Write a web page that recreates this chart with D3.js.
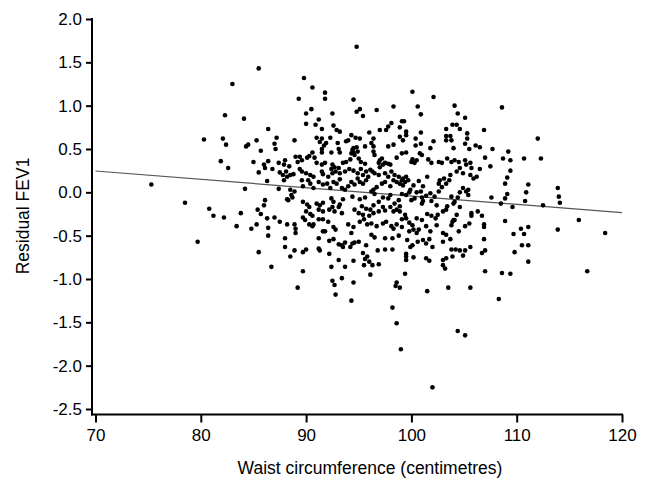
<!DOCTYPE html>
<html><head><meta charset="utf-8">
<script src="https://cdn.jsdelivr.net/npm/d3@7/dist/d3.min.js"></script>
<style>body{margin:0;background:#fff}svg{display:block}text{font-family:"Liberation Sans",Arial,sans-serif}</style>
</head><body><svg id="c" width="655" height="485"></svg>
<script>
const xTicks=[70,80,90,100,110,120];
const yTicks=[2.0,1.5,1.0,0.5,0.0,-0.5,-1.0,-1.5,-2.0,-2.5];
const fitX=[70,120];
const fitY=[0.246,-0.235];
const xTitle="Waist circumference (centimetres)";
const yTitle="Residual FEV1";
// [waist, residual FEV1]
const points=[
[85.5,1.43],[83.0,1.25],[82.3,0.89],[84.1,0.85],[86.4,0.73],[80.3,0.61],[82.1,0.62],[82.4,0.55],[84.3,0.53],[84.5,0.55],[85.3,0.60],[85.7,0.48],[81.9,0.36],[82.6,0.28],[85.0,0.35],[86.0,0.32],[86.1,0.28],[86.4,0.36],[85.5,0.23],[86.3,0.13],[75.3,0.09],[84.2,0.04],[78.5,-0.12],[86.1,-0.09],[80.8,-0.19],[81.2,-0.27],[82.2,-0.29],[83.8,-0.24],[85.4,-0.20],[85.7,-0.25],[86.0,-0.15],[86.3,-0.30],[79.7,-0.57],[83.4,-0.39],[84.8,-0.42],[85.3,-0.37],[86.4,-0.41],[86.4,-0.50],[85.5,-0.69],[86.7,-0.86],
[94.8,1.68],[89.8,1.32],[90.6,1.21],[91.8,1.15],[91.8,1.08],[89.3,1.08],[94.5,1.07],[100.1,1.16],[102.1,1.10],[98.3,0.99],[96.7,0.95],[100.6,0.99],[104.1,1.00],[90.5,0.96],[90.0,0.91],[92.5,0.91],[94.8,0.93],[95.1,0.96],[95.4,0.88],[100.9,0.90],[104.4,0.91],[105.1,0.86],[91.2,0.84],[90.0,0.79],[90.9,0.78],[91.5,0.73],[92.6,0.77],[92.9,0.72],[93.2,0.70],[98.1,0.80],[97.8,0.76],[97.6,0.72],[97.0,0.72],[96.0,0.69],[99.1,0.82],[99.3,0.82],[98.9,0.75],[99.5,0.70],[100.9,0.69],[103.3,0.73],[103.9,0.78],[104.3,0.78],[104.6,0.73],[105.3,0.68],[87.2,0.63],[87.0,0.56],[87.1,0.50],[88.9,0.60],[91.0,0.63],[91.5,0.62],[91.3,0.58],[92.3,0.63],[91.9,0.57],[94.3,0.66],[94.0,0.60],[93.8,0.59],[94.7,0.63],[95.1,0.62],[96.4,0.62],[96.2,0.57],[96.4,0.53],[98.9,0.64],[99.2,0.60],[99.5,0.66],[100.4,0.62],[100.4,0.54],[100.9,0.56],[103.3,0.65],[103.7,0.65],[103.8,0.60],[103.3,0.60],[105.3,0.62],[105.1,0.56],[102.1,0.59],[101.8,0.51],[97.8,0.53],[98.3,0.55],[93.0,0.57],[93.1,0.50],[91.5,0.50],[91.7,0.54],[94.5,0.51],[94.8,0.52],[95.6,0.53],[104.0,0.51],[105.5,0.50],
[108.6,0.98],[106.9,0.72],[112.0,0.62],[106.1,0.54],[106.5,0.52],[107.7,0.50],
[107.0,0.40],[108.7,0.39],[109.2,0.47],[109.4,0.37],[110.7,0.39],[112.3,0.39],[107.5,0.30],[106.5,0.27],[109.4,0.25],[109.1,0.17],[108.9,0.10],[111.1,0.09],[110.9,0.00],[110.8,-0.10],[109.1,-0.02],[108.9,-0.07],[108.5,-0.13],[107.6,-0.06],[109.6,-0.17],[112.5,-0.15],[113.9,0.05],[114.0,-0.05],[114.1,-0.12],[106.7,-0.27],[106.3,-0.22],[105.7,-0.24],[105.7,-0.27],[108.9,-0.33],[106.9,-0.37],[106.9,-0.40],[115.9,-0.32],[110.4,-0.42],[111.1,-0.40],[110.7,-0.48],[109.7,-0.48],[113.9,-0.43],[118.4,-0.47],[106.9,-0.54],[110.5,-0.61],[111.1,-0.61],[107.0,-0.67],[106.7,-0.70],[109.8,-0.69],[111.1,-0.80],[107.0,-0.91],[108.6,-0.93],[109.4,-0.94],[116.7,-0.91],[108.3,-1.23],
[90.6,0.46],[90.3,0.42],[90.1,0.40],[91.5,0.46],[92.4,0.46],[93.2,0.46],[94.4,0.49],[94.5,0.46],[94.9,0.47],[94.6,0.43],[94.3,0.45],[89.0,0.41],[89.4,0.41],[89.6,0.37],[89.2,0.35],[90.8,0.40],[91.0,0.34],[91.5,0.32],[91.8,0.34],[92.5,0.32],[92.7,0.29],[93.1,0.28],[93.5,0.34],[93.8,0.35],[94.2,0.38],[95.0,0.39],[95.2,0.35],[95.6,0.33],[87.4,0.34],[88.0,0.37],[87.9,0.32],[88.4,0.30],[86.8,0.27],[87.5,0.23],[87.8,0.20],[88.1,0.24],[88.5,0.20],[88.8,0.21],[88.2,0.18],[87.9,0.14],[89.4,0.27],[89.6,0.24],[90.0,0.22],[90.4,0.20],[90.7,0.18],[91.5,0.24],[91.6,0.21],[92.1,0.18],[92.4,0.27],[92.5,0.22],[92.8,0.24],[93.2,0.22],[93.7,0.24],[94.1,0.27],[94.5,0.25],[94.9,0.22],[95.2,0.27],[95.4,0.20],[95.7,0.24],[95.9,0.18],[89.6,0.14],[90.2,0.14],[89.7,0.07],[90.4,0.10],[90.7,0.05],[88.5,0.03],[88.9,0.01],[88.6,-0.03],[87.4,0.04],[91.2,0.12],[91.6,0.09],[92.0,0.10],[92.3,0.05],[92.6,0.12],[92.9,0.10],[93.2,0.15],[93.4,0.05],[93.7,0.03],[94.0,0.07],[94.3,0.12],[94.6,0.09],[94.9,0.16],[95.1,0.12],[95.4,0.10],[95.7,0.14],[94.4,-0.05],[95.1,-0.08],[95.6,-0.06],[92.4,-0.07],[93.5,-0.08],[88.2,-0.08],[88.7,-0.06],
[88.3,-0.09],[89.7,-0.11],[90.1,-0.14],[90.3,-0.17],[90.0,-0.22],[90.4,-0.25],[90.6,-0.27],[91.0,-0.13],[91.3,-0.15],[91.6,-0.12],[91.2,-0.20],[91.6,-0.22],[92.2,-0.20],[92.5,-0.17],[92.7,-0.22],[93.1,-0.17],[93.4,-0.24],[93.2,-0.14],[92.6,-0.11],[94.6,-0.20],[95.0,-0.24],[95.3,-0.16],[95.7,-0.19],[95.4,-0.26],[96.0,-0.27],[87.0,-0.29],[87.5,-0.34],[88.2,-0.37],[88.9,-0.37],[89.0,-0.42],[89.0,-0.47],[89.7,-0.29],[89.9,-0.32],[90.3,-0.37],[90.6,-0.39],[90.7,-0.37],[91.2,-0.31],[91.6,-0.31],[92.1,-0.34],[92.6,-0.40],[92.8,-0.43],[94.0,-0.37],[94.5,-0.40],[94.3,-0.47],[95.1,-0.34],[95.5,-0.31],[95.8,-0.37],[88.0,-0.53],[88.0,-0.63],[88.9,-0.67],[89.7,-0.69],[90.0,-0.66],[91.2,-0.53],[91.2,-0.65],[91.3,-0.67],[91.6,-0.45],[91.8,-0.45],[92.2,-0.56],[92.6,-0.54],[93.1,-0.60],[93.4,-0.61],[93.5,-0.63],[93.7,-0.58],[94.2,-0.63],[94.4,-0.59],[94.6,-0.58],[95.0,-0.57],[95.7,-0.61],[95.4,-0.70],[88.5,-0.74],[92.2,-0.71],[93.1,-0.78],[93.7,-0.86],[94.5,-0.79],[95.6,-0.77],[96.0,-0.80],[95.8,-0.74],[95.5,-0.84],[89.7,-0.91],[92.4,-0.86],[93.4,-0.99],
[89.2,-1.10],[92.5,-1.02],[92.7,-1.07],[94.5,-1.04],[92.8,-1.18],[94.3,-1.25],[98.6,-1.04],[98.5,-1.08],[98.9,-1.10],[98.2,-1.33],[98.6,-1.51],[99.0,-1.81],[101.5,-1.14],[103.5,-1.10],[105.6,-1.10],[104.4,-1.60],[105.1,-1.65],[102.0,-2.25],
[96.1,-0.20],[96.4,-0.24],[96.9,-0.22],[97.5,-0.21],[98.3,-0.22],[98.6,-0.20],[98.9,-0.22],[99.4,-0.26],[99.1,-0.31],[99.5,-0.30],[99.8,-0.35],[100.1,-0.38],[100.5,-0.30],[101.0,-0.32],[101.5,-0.25],[101.9,-0.27],[102.3,-0.30],[102.5,-0.26],[103.0,-0.22],[103.3,-0.20],[104.0,-0.32],[104.3,-0.26],[96.2,-0.36],[96.7,-0.39],[97.3,-0.36],[97.6,-0.34],[98.1,-0.39],[98.3,-0.42],[98.6,-0.37],[99.1,-0.40],[99.8,-0.45],[100.2,-0.43],[100.5,-0.47],[100.7,-0.43],[101.4,-0.39],[101.8,-0.45],[102.4,-0.38],[103.0,-0.47],[103.3,-0.49],[103.9,-0.34],[103.8,-0.38],[104.1,-0.32],[104.5,-0.45],[105.1,-0.39],[105.5,-0.36],[96.2,-0.49],[96.5,-0.52],[97.5,-0.53],[98.2,-0.53],[98.8,-0.50],[99.6,-0.55],[99.9,-0.63],[100.1,-0.61],[100.6,-0.57],[101.1,-0.55],[101.4,-0.59],[101.7,-0.54],[102.0,-0.63],[103.0,-0.57],[103.8,-0.66],[104.2,-0.66],[104.6,-0.67],[105.1,-0.67],[105.6,-0.63],[103.7,-0.54],[96.8,-0.67],[97.5,-0.66],[98.2,-0.66],[99.5,-0.71],[99.5,-0.74],[99.5,-0.78],[100.2,-0.75],[101.4,-0.76],[101.7,-0.79],[103.0,-0.78],[103.3,-0.76],[103.9,-0.74],[103.0,-0.84],[103.2,-0.88],[104.9,-0.73],[99.4,-0.94],[96.1,-0.95],[96.3,-0.84],[96.9,-0.83],
[96.4,0.47],[96.5,0.43],[97.0,0.37],[96.9,0.34],[97.2,0.39],[97.3,0.32],[97.0,0.29],[97.5,0.34],[97.8,0.33],[98.0,0.32],[98.6,0.40],[99.1,0.45],[99.5,0.46],[100.0,0.35],[100.3,0.34],[100.1,0.38],[100.5,0.37],[100.8,0.45],[101.0,0.43],[101.6,0.38],[101.9,0.34],[102.6,0.35],[102.9,0.34],[103.4,0.39],[103.8,0.35],[104.1,0.37],[104.5,0.35],[105.1,0.37],[105.2,0.32],[105.6,0.34],[105.7,0.28],[96.1,0.26],[96.3,0.24],[96.5,0.22],[96.9,0.20],[97.5,0.22],[97.8,0.18],[98.1,0.24],[98.4,0.20],[98.3,0.14],[98.8,0.18],[99.1,0.14],[99.2,0.16],[99.4,0.12],[99.5,0.18],[99.7,0.14],[99.2,0.08],[98.9,0.10],[98.6,0.12],[98.0,0.07],[97.5,0.12],[97.2,0.10],[96.7,0.06],[96.4,0.03],[96.2,0.01],[96.5,-0.02],[97.3,-0.06],[97.8,-0.07],[98.0,-0.03],[98.4,-0.13],[98.8,-0.09],[99.1,-0.02],[99.5,-0.03],[99.8,0.00],[100.0,-0.09],[100.3,-0.07],[100.5,0.00],[100.9,0.01],[101.0,-0.06],[101.1,-0.10],[101.4,-0.04],[101.8,-0.01],[101.9,-0.10],[102.2,-0.05],[102.6,0.01],[102.6,0.10],[102.7,0.14],[102.9,0.06],[103.1,0.16],[103.3,0.10],[103.6,0.14],[103.8,-0.05],[104.1,-0.11],[104.4,-0.06],[104.6,0.00],[104.9,0.05],[105.2,0.01],[105.4,-0.03],[105.4,0.03],[105.6,0.20],[105.9,0.16],[106.2,0.18],[103.7,0.20],[104.3,0.24],[104.6,0.28],[104.9,0.22],[101.5,0.18],[101.1,0.07],[100.7,0.13],[100.2,0.08],[99.9,0.03],[98.9,-0.16],[98.0,-0.17],[97.3,-0.17],[96.4,-0.15],[96.9,-0.11],[101.0,-0.13],[102.4,-0.15],[103.4,-0.16],[104.0,-0.13],[104.6,-0.17]
];

const svg=d3.select("#c");
const x=d3.scaleLinear().domain([70,120]).range([95.5,622]);
const y=d3.scaleLinear().domain([-2.5,2.0]).range([409,19]);
const axisY0=92, axisX0=414.5;
const fmtY=d=>d3.format(".1f")(d).replace("\u2212","-");

svg.append("line").attr("x1",axisY0).attr("x2",axisY0).attr("y1",y(2.0)-1).attr("y2",axisX0+1)
  .attr("stroke","#000").attr("stroke-width",2);
svg.append("line").attr("x1",axisY0-1).attr("x2",x(120)+1).attr("y1",axisX0).attr("y2",axisX0)
  .attr("stroke","#000").attr("stroke-width",2);

const gy=svg.append("g").attr("transform",`translate(${axisY0},0)`)
  .call(d3.axisLeft(y).tickValues(yTicks).tickFormat(fmtY).tickSize(6).tickPadding(4));
gy.select(".domain").remove();
gy.selectAll(".tick line").attr("stroke","#000").attr("stroke-width",2);
gy.selectAll(".tick text").attr("font-size",17).attr("fill","#000").attr("font-family","Liberation Sans, Arial, sans-serif");

const gx=svg.append("g").attr("transform",`translate(0,${axisX0})`)
  .call(d3.axisBottom(x).tickValues(xTicks).tickFormat(d3.format("d")).tickSize(8).tickPadding(6));
gx.select(".domain").remove();
gx.selectAll(".tick line").attr("stroke","#000").attr("stroke-width",2);
gx.selectAll(".tick text").attr("font-size",17).attr("fill","#000").attr("font-family","Liberation Sans, Arial, sans-serif");

svg.append("line").attr("x1",x(fitX[0])).attr("y1",y(fitY[0])).attr("x2",x(fitX[1])).attr("y2",y(fitY[1]))
  .attr("stroke","#555").attr("stroke-width",1.2);

svg.append("g").selectAll("circle").data(points).join("circle")
  .attr("cx",d=>x(d[0])).attr("cy",d=>y(d[1])).attr("r",2.3).attr("fill","#000");

svg.append("text").attr("x",370).attr("y",474).attr("text-anchor","middle")
  .attr("font-size",17.5).attr("fill","#000").text(xTitle);
svg.append("text").attr("transform","translate(29,216) rotate(-90)").attr("text-anchor","middle")
  .attr("font-size",17.5).attr("fill","#000").text(yTitle);
</script></body></html>
